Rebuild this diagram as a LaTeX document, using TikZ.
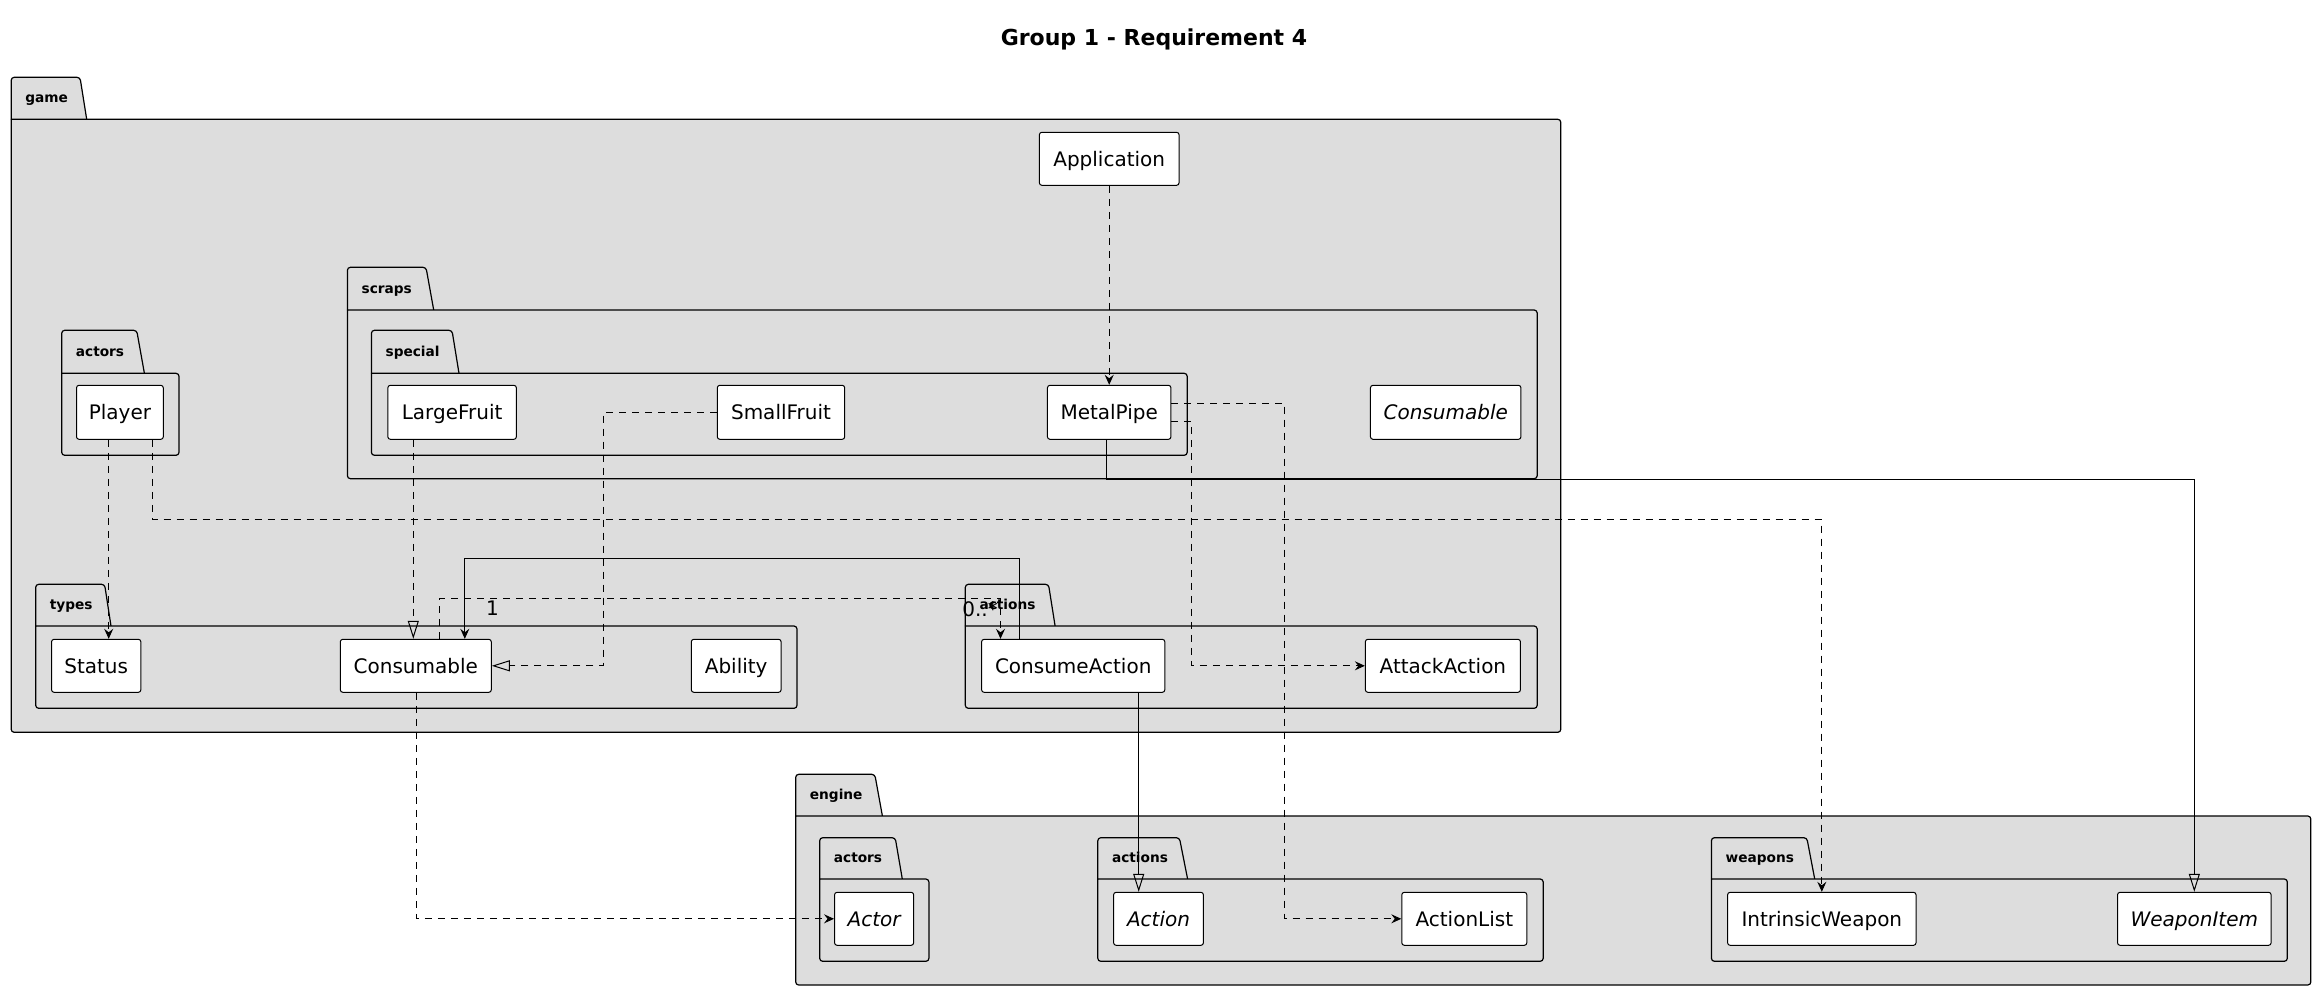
\documentclass[tikz,border=0pt]{standalone}
\usepackage{fontspec}
\setmainfont{DejaVu Sans}
\usetikzlibrary{arrows.meta,calc}
\definecolor{pkgfill}{HTML}{DDDDDD}

\tikzset{
  pkgbody/.style={draw=black, fill=pkgfill, line width=1.2pt, line join=round},
  pkglabel/.style={font=\bfseries\fontsize{13.7}{16}\selectfont, inner sep=0pt, anchor=base west},
  cls/.style={draw=black, fill=white, line width=1pt, rounded corners=2.5pt, inner sep=0pt,
    text height=14.58pt, text depth=0pt, font=\fontsize{20}{24}\selectfont},
  abscls/.style={cls, font=\itshape\fontsize{20}{24}\selectfont},
  link/.style={line width=1pt},
  dep/.style={link, dash pattern=on 7pt off 6pt, -{Stealth[length=10pt,width=9pt,inset=3.5pt]}},
  real/.style={link, dash pattern=on 7pt off 6pt, -{Triangle[open,length=18pt,width=11pt]}},
  gen/.style={link, -{Triangle[open,length=18pt,width=11pt]}},
  assoc/.style={link, -{Stealth[length=10pt,width=9pt,inset=3.5pt]}},
  mult/.style={font=\fontsize{20}{24}\selectfont, inner sep=0pt},
}

% package: name, left, tab top, tab right (top), tab right (bottom), body top, right, bottom, label
\newcommand\pkgdraw[9]{%
  \filldraw[pkgbody, rounded corners=3pt] (#2,#6) -- (#2,#3) -- (#4,#3) -- (#5,#6);
  \filldraw[pkgbody] (#2,#6) {[rounded corners=3pt] -- (#7,#6) -- (#7,#8) -- (#2,#8)} -- cycle;
  \node[pkglabel] (#1) at ({#2+14},{(#3+#6)/2+4.5}) {#9};
}

\begin{document}
\begin{tikzpicture}[x=1pt,y=-1pt]
\useasboundingbox (0,0) rectangle (2317,991);

\node[font=\bfseries\fontsize{22}{26}\selectfont, anchor=base, inner sep=0pt] (title) at (1154,45) {Group 1 - Requirement 4};

% packages
\pkgdraw{game}{11.2}{77.3}{80}{86.7}{119.3}{1560.8}{732.3}{game}
\pkgdraw{gameactors}{61.7}{330.3}{136.7}{144.4}{373.3}{179}{455.3}{actors}
\pkgdraw{scraps}{347.4}{267.3}{426}{433.7}{310}{1537.2}{478.7}{scraps}
\pkgdraw{special}{371.4}{330.3}{452}{459}{373.3}{1187.2}{455.3}{special}
\pkgdraw{types}{35.7}{584.3}{104.6}{111}{626}{797}{708.3}{types}
\pkgdraw{gameactions}{965.3}{584.3}{1048.5}{1055.1}{626}{1537.2}{708.3}{actions}
\pkgdraw{engine}{795.7}{774.3}{874.8}{882.4}{816}{2310.8}{985}{engine}
\pkgdraw{engineactors}{819.7}{837.7}{895.2}{902.3}{879}{928.9}{961.3}{actors}
\pkgdraw{engineactions}{1097.8}{837.7}{1179.4}{1187.6}{879}{1543.2}{961.3}{actions}
\pkgdraw{weapons}{1711.4}{837.7}{1806.8}{1814.7}{879}{2287.3}{961.3}{weapons}

% classes of game
\node[cls, minimum width=139.7pt, minimum height=53pt] (application) at (1109.2,158.8) {Application};
\node[cls, minimum width=86.8pt, minimum height=54pt] (player) at (119.9,412.3) {Player};
\node[cls, minimum width=128.5pt, minimum height=54pt] (largefruit) at (452.1,412.3) {LargeFruit};
\node[cls, minimum width=127.4pt, minimum height=54pt] (smallfruit) at (781,412.3) {SmallFruit};
\node[cls, minimum width=123.5pt, minimum height=54pt] (metalpipe) at (1109.2,412.3) {MetalPipe};
\node[abscls, minimum width=150.5pt, minimum height=54pt] (scrapconsumable) at (1445.7,412.3) {Consumable};
\node[cls, minimum width=89.3pt, minimum height=53pt] (status) at (96.2,665.8) {Status};
\node[cls, minimum width=151pt, minimum height=53pt] (consumable) at (415.8,665.8) {Consumable};
\node[cls, minimum width=89.8pt, minimum height=53pt] (ability) at (736.2,665.8) {Ability};
\node[cls, minimum width=183.2pt, minimum height=53pt] (consumeaction) at (1073.2,665.8) {ConsumeAction};
\node[cls, minimum width=155.1pt, minimum height=53pt] (attackaction) at (1442.9,665.8) {AttackAction};

% classes of engine
\node[abscls, minimum width=79.1pt, minimum height=53pt] (actor) at (874.1,918.8) {Actor};
\node[abscls, minimum width=89.8pt, minimum height=53pt] (action) at (1158.5,918.8) {Action};
\node[cls, minimum width=125pt, minimum height=53pt] (actionlist) at (1464.3,918.8) {ActionList};
\node[cls, minimum width=188.4pt, minimum height=53pt] (intrinsicweapon) at (1821.8,918.8) {IntrinsicWeapon};
\node[abscls, minimum width=153.6pt, minimum height=53pt] (weaponitem) at (2194.3,918.8) {WeaponItem};

% relations
\draw[dep] (application.south) -- (metalpipe.north);
\draw[dep] ($(player.south)+(-11.2,0)$) coordinate (pa) -- (pa |- status.north);
\draw[dep] ($(player.south)+(32.7,0)$) -- ++(0,80) -| (intrinsicweapon.north);
\draw[real] ($(largefruit.south)+(-38.8,0)$) coordinate (lf) -- (lf |- consumable.north);
\draw[real] (smallfruit.west) -- ++(-113.7,0) |- (consumable.east);
\draw[dep] ($(consumable.north)+(23.5,0)$) -- ++(0,-40.3) -| ($(consumeaction.north)+(-72.7,0)$);
\node[mult, anchor=base east] (multmany) at ($(consumeaction.north)+(-75.2,-22.6)$) {0..*};
\draw[assoc] ($(consumeaction.north)+(-53.8,0)$) -- ++(0,-80) -| ($(consumable.north)+(49,0)$);
\node[mult, anchor=base] (multone) at ($(consumable.north)+(76.7,-23.3)$) {1};
\draw[dep] ($(metalpipe.east)+(0,9)$) -- ++(20.4,0) |- (attackaction.west);
\draw[dep] ($(metalpipe.east)+(0,-9.3)$) -- ++(113.3,0) |- (actionlist.west);
\draw[gen] ($(metalpipe.south)+(-3.2,0)$) -- ++(0,40) -| (weaponitem.north);
\draw[dep] ($(consumable.south)+(1,0)$) |- (actor.west);
\draw[gen] ($(consumeaction.south)+(65.5,0)$) coordinate (ca) -- (ca |- action.north);

\end{tikzpicture}
\end{document}
